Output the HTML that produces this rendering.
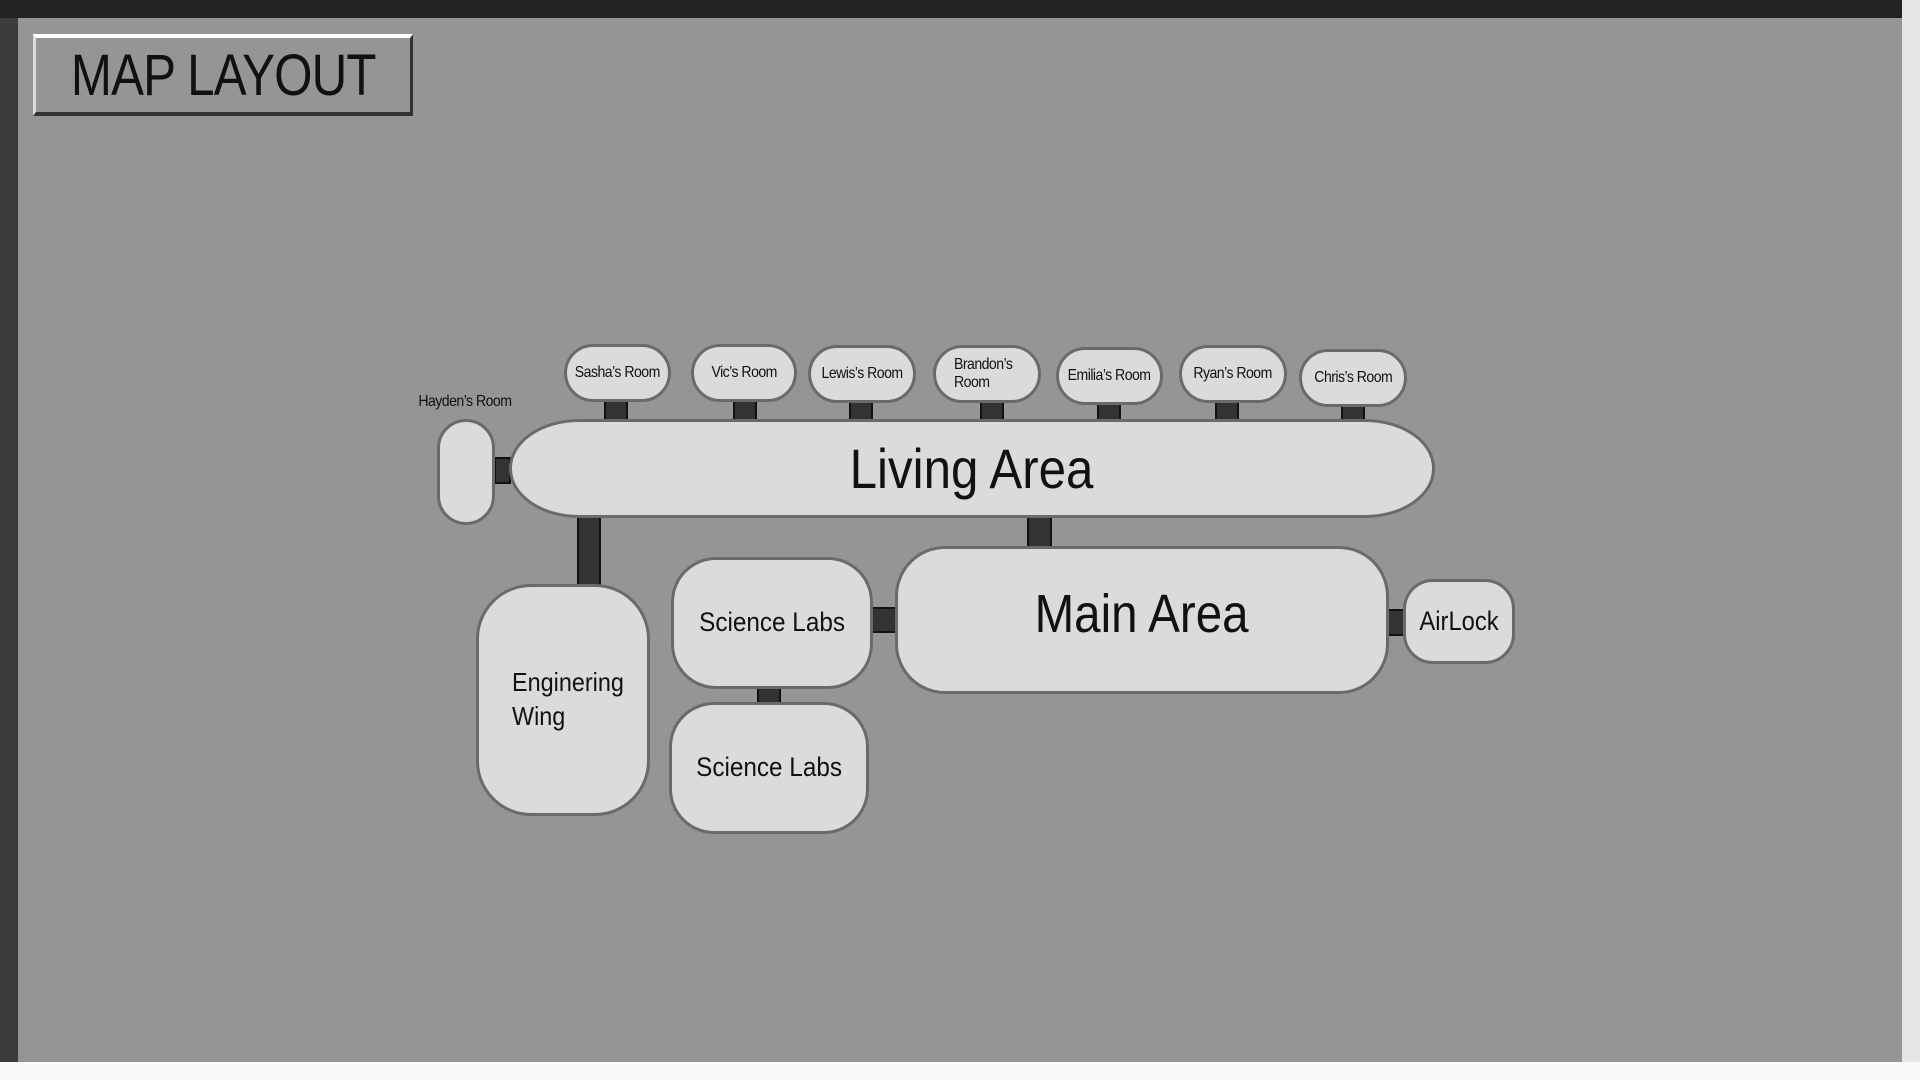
<!DOCTYPE html>
<html><head><meta charset="utf-8"><style>
*{margin:0;padding:0;box-sizing:border-box}
body{width:1920px;height:1080px;overflow:hidden;background:#959595;position:relative;font-family:"Liberation Sans Narrow","Liberation Sans",sans-serif;color:#111}
.a{position:absolute}
.n{position:absolute;background:#dbdbdb;border:3px solid #6a6a6a;display:flex;align-items:center;justify-content:center;text-align:center;line-height:1.1}
.c{position:absolute;background:#333;border:2px solid #111}
.s{font-size:16px;letter-spacing:-0.6px;white-space:nowrap;display:inline-block;transform:scaleX(0.88)}
</style></head><body>
<div class="a" style="left:0;top:0;width:1920px;height:18px;background:#232323"></div>
<div class="a" style="left:0;top:0;width:18px;height:1080px;background:#3c3c3c"></div>
<div class="a" style="left:1902px;top:0;width:18px;height:1080px;background:#e6e6e6"></div>
<div class="a" style="left:0;top:1062px;width:1920px;height:18px;background:#fafafa"></div>
<div class="a" style="left:0;top:0;width:1902px;height:18px;background:#232323"></div>

<div class="a" style="left:33px;top:34px;width:380px;height:82px;background:#959595;border-top:4px solid #fff;border-left:3px solid #ddd;border-right:3px solid #333;border-bottom:4px solid #333;font-size:58px;display:flex;align-items:center;justify-content:center;letter-spacing:-1px"><span style="transform:scaleX(0.85);display:inline-block">MAP LAYOUT</span></div>

<div class="c" style="left:494px;top:457px;width:17px;height:27px"></div>
<div class="c" style="left:604px;top:400px;width:24px;height:21px"></div>
<div class="c" style="left:733px;top:400px;width:24px;height:21px"></div>
<div class="c" style="left:849px;top:400px;width:24px;height:21px"></div>
<div class="c" style="left:980px;top:400px;width:24px;height:21px"></div>
<div class="c" style="left:1097px;top:403px;width:24px;height:18px"></div>
<div class="c" style="left:1215px;top:400px;width:24px;height:21px"></div>
<div class="c" style="left:1341px;top:405px;width:24px;height:16px"></div>
<div class="c" style="left:577px;top:516px;width:24px;height:70px"></div>
<div class="c" style="left:1027px;top:516px;width:25px;height:32px"></div>
<div class="c" style="left:871px;top:607px;width:26px;height:26px"></div>
<div class="c" style="left:757px;top:687px;width:24px;height:17px"></div>
<div class="c" style="left:1387px;top:609px;width:18px;height:27px"></div>

<div class="a" style="left:405px;top:393px;width:120px;text-align:center"><span class="s">Hayden’s Room</span></div>
<div class="n" style="left:437px;top:419px;width:58px;height:106px;border-radius:29px"></div>
<div class="n" style="left:509px;top:419px;width:926px;height:99px;border-radius:70px/49px;font-size:56px"><span style="transform:scaleX(0.88);display:inline-block">Living Area</span></div>

<div class="n" style="left:564px;top:344px;width:107px;height:58px;border-radius:29px"><span class="s">Sasha’s Room</span></div>
<div class="n" style="left:691px;top:344px;width:106px;height:58px;border-radius:29px"><span class="s">Vic’s Room</span></div>
<div class="n" style="left:808px;top:345px;width:108px;height:58px;border-radius:29px"><span class="s">Lewis’s Room</span></div>
<div class="n" style="left:933px;top:345px;width:108px;height:58px;border-radius:29px;justify-content:flex-start;padding-left:18px;text-align:left"><span class="s" style="transform-origin:left">Brandon’s<br>Room</span></div>
<div class="n" style="left:1056px;top:347px;width:107px;height:58px;border-radius:29px"><span class="s">Emilia’s Room</span></div>
<div class="n" style="left:1179px;top:345px;width:108px;height:58px;border-radius:29px"><span class="s">Ryan’s Room</span></div>
<div class="n" style="left:1299px;top:349px;width:108px;height:58px;border-radius:29px"><span class="s">Chris’s Room</span></div>

<div class="n" style="left:476px;top:584px;width:174px;height:232px;border-radius:55px;font-size:26px;justify-content:flex-start;padding-left:33px;text-align:left;line-height:1.3"><span style="display:inline-block;transform:scaleX(0.9);transform-origin:left">Enginering<br>Wing</span></div>
<div class="n" style="left:671px;top:557px;width:202px;height:132px;border-radius:45px;font-size:27px"><span style="display:inline-block;transform:scaleX(0.9)">Science Labs</span></div>
<div class="n" style="left:669px;top:702px;width:200px;height:132px;border-radius:45px;font-size:27px"><span style="display:inline-block;transform:scaleX(0.9)">Science Labs</span></div>
<div class="n" style="left:895px;top:546px;width:494px;height:148px;border-radius:50px;font-size:54px;padding-bottom:10px"><span style="transform:scaleX(0.88);display:inline-block">Main Area</span></div>
<div class="n" style="left:1403px;top:579px;width:112px;height:85px;border-radius:30px;font-size:27px"><span style="display:inline-block;transform:scaleX(0.88)">AirLock</span></div>
</body></html>
